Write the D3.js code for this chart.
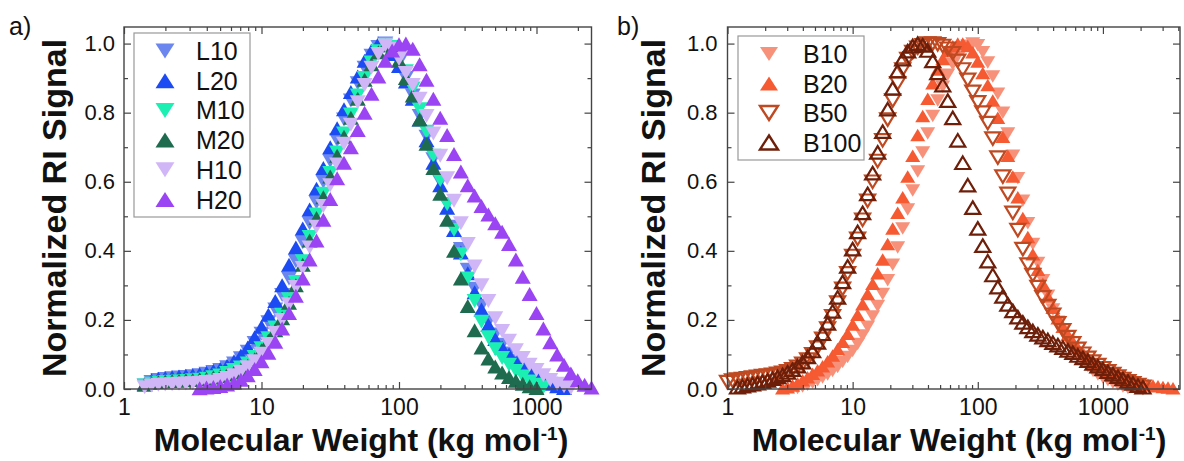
<!DOCTYPE html>
<html lang="en">
<head>
<meta charset="UTF-8">
<title>Normalized RI traces</title>
<script src="https://d3js.org/d3.v7.min.js"></script>
<style>
  body { margin: 0; background: #fff; }
  svg { font-family: 'Liberation Sans', Arial, Helvetica, sans-serif; }
</style>
</head>
<body>
<svg id="chart" width="1184" height="461"></svg>
<script>
// molecular weight of each GPC slice (kg/mol), panel a
const mwA = [1.259, 1.413, 1.585, 1.778, 1.995, 2.239, 2.512, 2.818, 3.162, 3.548,
  3.981, 4.467, 5.012, 5.623, 6.310, 7.079, 7.943, 8.913, 10, 11.22,
  12.59, 14.13, 15.85, 17.78, 19.95, 22.39, 25.12, 28.18, 31.62, 35.48,
  39.81, 44.67, 50.12, 56.23, 63.10, 70.79, 79.43, 89.13, 100, 112.2,
  125.9, 141.3, 158.5, 177.8, 199.5, 223.9, 251.2, 281.8, 316.2, 354.8,
  398.1, 446.7, 501.2, 562.3, 631.0, 707.9, 794.3, 891.3, 1000, 1122,
  1259, 1413, 1585, 1778, 1995, 2239, 2512];

// molecular weight of each GPC slice (kg/mol), panel b
const mwB = [1.000, 1.096, 1.202, 1.318, 1.445, 1.585, 1.738, 1.905, 2.089, 2.291,
  2.512, 2.754, 3.020, 3.311, 3.631, 3.981, 4.365, 4.786, 5.248, 5.754,
  6.310, 6.918, 7.586, 8.318, 9.120, 10.00, 10.96, 12.02, 13.18, 14.45,
  15.85, 17.38, 19.05, 20.89, 22.91, 25.12, 27.54, 30.20, 33.11, 36.31,
  39.81, 43.65, 47.86, 52.48, 57.54, 63.10, 69.18, 75.86, 83.18, 91.20,
  100.0, 109.6, 120.2, 131.8, 144.5, 158.5, 173.8, 190.5, 208.9, 229.1,
  251.2, 275.4, 302.0, 331.1, 363.1, 398.1, 436.5, 478.6, 524.8, 575.4,
  631.0, 691.8, 758.6, 831.8, 912.0, 1000, 1096, 1202, 1318, 1445,
  1585, 1738, 1905, 2089, 2291, 2512, 2754, 3020, 3311, 3631];

// normalized RI signal; *Start = index of the first slice in the mw list
const L10Start = 1;
const L10 = [.010, .020, .026, .029, .031, .033, .035, .037, .040,
  .044, .049, .055, .063, .074, .089, .108, .133, .160, .193,
  .230, .272, .320, .370, .425, .480, .540, .600, .660, .720,
  .780, .835, .885, .930, .965, .990, 1.00, .980, .945, .900,
  .850, .790, .730, .665, .600, .535, .470, .405, .345, .290,
  .240, .195, .158, .128, .103, .082, .064, .048, .035, .024,
  .015, .008, .003];

const L20Start = 1;
const L20 = [.015, .025, .030, .032, .034, .036, .038, .040, .043,
  .047, .052, .058, .067, .080, .097, .120, .150, .180, .215,
  .255, .300, .360, .410, .465, .520, .580, .640, .700, .755,
  .810, .860, .905, .950, .980, 1.00, .995, .970, .935, .890,
  .840, .780, .720, .655, .590, .525, .460, .395, .335, .280,
  .230, .185, .145, .120, .100, .080, .062, .047, .035, .024,
  .015, .008, .003];

const M10Start = 1;
const M10 = [.010, .015, .018, .020, .021, .022, .023, .025, .027,
  .030, .034, .039, .046, .055, .062, .074, .093, .118, .147,
  .178, .215, .260, .310, .370, .440, .505, .565, .625, .685,
  .740, .795, .850, .900, .945, .978, .997, .990, .960, .920,
  .870, .810, .745, .675, .605, .535, .460, .390, .320, .255,
  .195, .150, .115, .090, .070, .052, .036, .022, .012, .005];

const M20Start = 1;
const M20 = [.012, .018, .020, .022, .023, .024, .025, .026, .028,
  .030, .033, .037, .042, .048, .056, .067, .086, .112, .140,
  .170, .205, .250, .300, .360, .430, .495, .555, .615, .675,
  .730, .785, .840, .895, .940, .975, .995, .985, .950, .900,
  .850, .780, .710, .640, .565, .490, .400, .320, .240, .170,
  .120, .088, .065, .048, .035, .024, .015, .008, .003];

const H10Start = 1;
const H10 = [.005, .010, .012, .013, .014, .015, .016, .017, .018,
  .020, .022, .026, .032, .040, .050, .063, .080, .102, .130,
  .162, .200, .245, .295, .350, .410, .470, .530, .590, .650,
  .710, .765, .830, .880, .930, .970, .995, .985, .955, .915,
  .880, .840, .790, .740, .675, .610, .545, .480, .420, .355,
  .300, .255, .205, .168, .140, .112, .090, .070, .055, .040,
  .026, .015, .008, .003];

const H20Start = 9;
const H20 = [.002,
  .004, .006, .009, .013, .018, .027, .040, .058, .080, .105,
  .137, .175, .220, .270, .320, .375, .430, .490, .550, .610,
  .655, .700, .750, .800, .855, .905, .950, .980, .998, 1.00,
  .985, .940, .895, .840, .785, .735, .680, .630, .590, .560,
  .530, .505, .480, .455, .420, .375, .325, .275, .220, .175,
  .135, .100, .070, .045, .025, .012, .004];

const B10Start = 14;
const B10 = [.003, .007, .012, .018, .025, .033,
  .042, .052, .064, .078, .093, .110, .130, .155, .180, .210,
  .240, .275, .315, .360, .410, .465, .520, .575, .630, .685,
  .740, .790, .835, .875, .910, .940, .965, .982, .994, 1.00,
  .995, .975, .945, .905, .855, .800, .740, .675, .610, .545,
  .480, .420, .365, .315, .270, .230, .195, .165, .140, .118,
  .098, .081, .066, .053, .042, .033, .025, .018, .012, .007,
  .003];

const B20Start = 11;
const B20 = [.002, .005, .010, .017, .025, .034, .044, .054, .066,
  .080, .097, .116, .137, .160, .187, .215, .245, .275, .305,
  .335, .375, .420, .465, .510, .555, .615, .675, .735, .790,
  .840, .885, .925, .955, .978, .992, 1.00, 1.00, .993, .975,
  .948, .915, .880, .835, .785, .730, .675, .615, .555, .495,
  .440, .390, .345, .305, .268, .235, .205, .180, .157, .137,
  .119, .103, .089, .077, .066, .056, .047, .040, .033, .027,
  .022, .018, .015, .013, .012, .010, .008, .006, .004, .002];

const B50Start = 0;
const B50 = [.020, .024, .027, .029, .031, .033, .035, .037, .039, .041,
  .044, .047, .051, .057, .064, .073, .085, .100, .120, .145,
  .175, .210, .250, .290, .335, .385, .435, .490, .545, .600,
  .660, .720, .780, .835, .885, .925, .955, .975, .988, .995,
  1.00, 1.00, .998, .993, .985, .972, .950, .925, .895, .860,
  .830, .800, .770, .725, .670, .615, .565, .510, .460, .405,
  .360, .330, .295, .265, .240, .215, .190, .170, .150, .132,
  .116, .102, .090, .079, .069, .060, .051, .043, .036, .029,
  .022, .016, .011, .006];

const B100Start = 2;
const B100 = [.005, .008, .011, .014, .017, .021, .025, .030,
  .035, .041, .048, .056, .066, .078, .093, .110, .135, .160,
  .190, .225, .265, .310, .355, .405, .455, .510, .565, .625,
  .685, .745, .810, .870, .920, .955, .978, .993, 1.00, .995,
  .980, .950, .915, .880, .835, .785, .720, .655, .590, .525,
  .465, .415, .370, .330, .295, .268, .245, .226, .208, .193,
  .180, .168, .158, .150, .142, .134, .127, .120, .112, .105,
  .097, .090, .082, .074, .066, .058, .050, .043, .036, .029,
  .022, .016, .010, .005];

const yTicks = [0, 0.2, 0.4, 0.6, 0.8, 1.0];
const yMinor = [0.1, 0.3, 0.5, 0.7, 0.9];
const xTicks = [1, 10, 100, 1000];
const xMinor = [2, 3, 4, 5, 6, 7, 8, 9, 20, 30, 40, 50, 60, 70, 80, 90,
  200, 300, 400, 500, 600, 700, 800, 900, 2000, 3000, 4000];

const svg = d3.select("#chart");
const ink = "#111";
const frameColor = "#444";

// triangle centred on the data point
function tri(w, h, down) {
  const s = down ? -1 : 1;
  return `M0,${-s * h / 2}L${w / 2},${s * h / 2}L${-w / 2},${s * h / 2}Z`;
}

function drawPanel(p) {
  const x = d3.scaleLog().domain(p.xDomain).range(p.xRange);
  const y = d3.scaleLinear().domain([0, 1.048]).range([389, 27]);
  const g = svg.append("g");

  // data markers, in legend order so the last series sits on top
  p.series.forEach(s => {
    const pts = s.vals.map((v, j) => ({ mw: p.grid[s.start + j], v: v }));
    g.append("g").selectAll("path")
      .data(pts)
      .join("path")
      .attr("transform", d => `translate(${x(d.mw)},${y(d.v)})`)
      .attr("d", tri(p.mw, p.mh, s.down))
      .attr("fill", s.open ? "none" : s.color)
      .attr("stroke", s.open ? s.color : "none")
      .attr("stroke-width", s.open ? 2.2 : 0)
      .attr("stroke-linejoin", "miter");
  });

  const [x0, x1] = p.xRange;
  const minor = xMinor.filter(v => v < p.xDomain[1]);

  function styleAxis(sel, size) {
    sel.attr("font-size", size).attr("font-family", null).attr("color", frameColor);
    sel.select(".domain").remove();
    sel.selectAll("line").attr("stroke-width", 1.2);
    sel.selectAll("text").attr("fill", ink);
  }

  // bottom
  g.append("g").attr("transform", "translate(0,389)")
    .call(d3.axisBottom(x).tickValues(xTicks).tickFormat(d3.format("d")).tickSize(-7).tickPadding(10))
    .call(s => styleAxis(s, 23));
  g.append("g").attr("transform", "translate(0,389)")
    .call(d3.axisBottom(x).tickValues(minor).tickFormat("").tickSize(-4))
    .call(s => styleAxis(s, 10));
  // top
  g.append("g").attr("transform", "translate(0,27)")
    .call(d3.axisTop(x).tickValues(xTicks).tickFormat("").tickSize(-7))
    .call(s => styleAxis(s, 10));
  g.append("g").attr("transform", "translate(0,27)")
    .call(d3.axisTop(x).tickValues(minor).tickFormat("").tickSize(-4))
    .call(s => styleAxis(s, 10));
  // left
  g.append("g").attr("transform", `translate(${x0},0)`)
    .call(d3.axisLeft(y).tickValues(yTicks).tickFormat(d3.format(".1f")).tickSize(-7).tickPadding(p.yPad))
    .call(s => styleAxis(s, 22));
  g.append("g").attr("transform", `translate(${x0},0)`)
    .call(d3.axisLeft(y).tickValues(yMinor).tickFormat("").tickSize(-4))
    .call(s => styleAxis(s, 10));
  // right
  g.append("g").attr("transform", `translate(${x1},0)`)
    .call(d3.axisRight(y).tickValues(yTicks).tickFormat("").tickSize(-7))
    .call(s => styleAxis(s, 10));
  g.append("g").attr("transform", `translate(${x1},0)`)
    .call(d3.axisRight(y).tickValues(yMinor).tickFormat("").tickSize(-4))
    .call(s => styleAxis(s, 10));

  // frame
  g.append("rect")
    .attr("x", x0).attr("y", 27)
    .attr("width", x1 - x0).attr("height", 389 - 27)
    .attr("fill", "none").attr("stroke", frameColor).attr("stroke-width", 1.4);

  // legend
  const lg = p.legend;
  g.append("rect")
    .attr("x", lg.x).attr("y", lg.y).attr("width", lg.w).attr("height", lg.h)
    .attr("fill", "#fff").attr("stroke", "#999").attr("stroke-width", 1.2);
  p.series.forEach((s, i) => {
    const cy = lg.firstRow + i * lg.step;
    g.append("path")
      .attr("transform", `translate(${lg.markX},${cy})`)
      .attr("d", tri(lg.mw, lg.mh, s.down))
      .attr("fill", s.open ? "#fff" : s.color)
      .attr("stroke", s.open ? s.color : "none")
      .attr("stroke-width", s.open ? 2.4 : 0);
    g.append("text")
      .attr("x", lg.textX).attr("y", cy + 9)
      .attr("font-size", 25).attr("fill", ink)
      .text(s.name);
  });

  // axis titles
  g.append("text")
    .attr("transform", `translate(${p.yTitleX},208) rotate(-90)`)
    .attr("text-anchor", "middle")
    .attr("font-size", 34).attr("font-weight", "bold").attr("fill", ink)
    .text("Normalized RI Signal");

  const xt = g.append("text")
    .attr("x", p.xTitleX).attr("y", 451)
    .attr("text-anchor", "middle")
    .attr("font-size", 32).attr("font-weight", "bold").attr("fill", ink);
  xt.append("tspan").text("Molecular Weight (kg mol");
  xt.append("tspan").attr("dy", -11).attr("font-size", 19).text("-1");
  xt.append("tspan").attr("dy", 11).text(")");

  g.append("text")
    .attr("x", p.tagX).attr("y", 35)
    .attr("font-size", 25).attr("fill", ink)
    .text(p.tag);
}

drawPanel({
  tag: "a)", tagX: 9,
  grid: mwA,
  xDomain: [1, 2512], xRange: [124, 591.5],
  yPad: 9, yTitleX: 66, xTitleX: 361,
  mw: 16, mh: 14,
  series: [
    { name: "L10", vals: L10, start: L10Start, color: "#6b86ef", down: true },
    { name: "L20", vals: L20, start: L20Start, color: "#1d4bf3", down: false },
    { name: "M10", vals: M10, start: M10Start, color: "#1cefb2", down: true },
    { name: "M20", vals: M20, start: M20Start, color: "#1f6b50", down: false },
    { name: "H10", vals: H10, start: H10Start, color: "#d1b6f7", down: true },
    { name: "H20", vals: H20, start: H20Start, color: "#9a44f3", down: false }
  ],
  legend: { x: 134, y: 33, w: 116, h: 184, firstRow: 51, step: 29.7, markX: 165, textX: 196, mw: 19, mh: 15 }
});

drawPanel({
  tag: "b)", tagX: 617,
  grid: mwB,
  xDomain: [1, 4130], xRange: [727.5, 1180],
  yPad: 10, yTitleX: 665, xTitleX: 959,
  mw: 15, mh: 12.5,
  series: [
    { name: "B10", vals: B10, start: B10Start, color: "#f8917a", down: true },
    { name: "B20", vals: B20, start: B20Start, color: "#f65a32", down: false },
    { name: "B50", vals: B50, start: B50Start, color: "#bf4a22", down: true, open: true },
    { name: "B100", vals: B100, start: B100Start, color: "#6e1f0a", down: false, open: true }
  ],
  legend: { x: 738, y: 36, w: 126, h: 124, firstRow: 54, step: 29.5, markX: 769, textX: 803, mw: 18, mh: 14 }
});
</script>
</body>
</html>
